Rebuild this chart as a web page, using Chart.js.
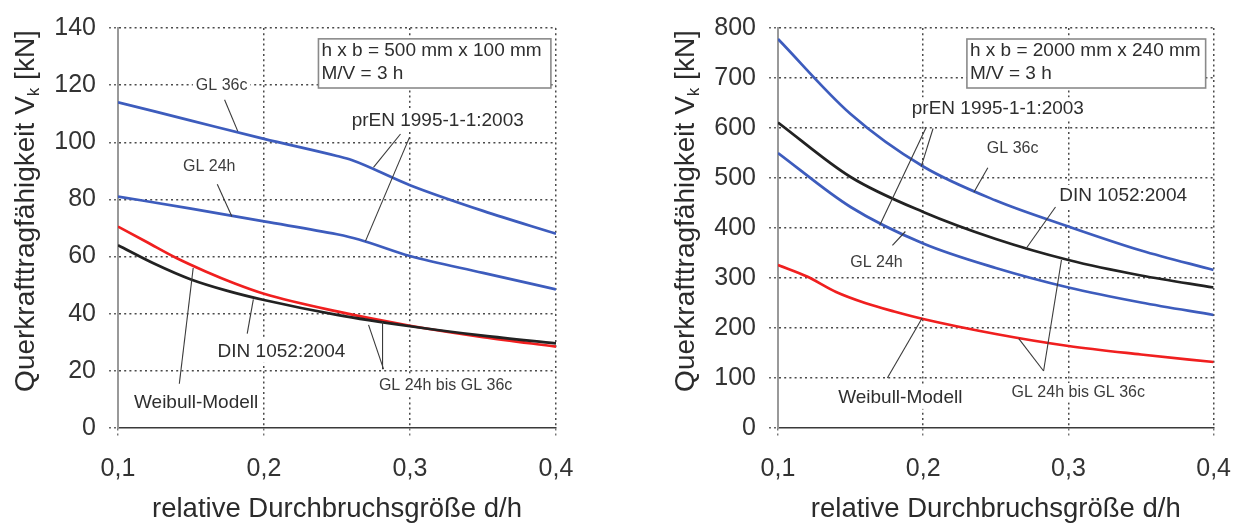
<!DOCTYPE html>
<html>
<head>
<meta charset="utf-8">
<script src="https://cdn.jsdelivr.net/npm/chart.js@4/dist/chart.umd.min.js"></script>
<style>
  html, body { margin:0; padding:0; background:#fff; }
  .wrap { position:absolute; top:0; height:524px; }
</style>
</head>
<body>
<div class="wrap" style="left:0;width:620px"><canvas id="cL"></canvas></div>
<div class="wrap" style="left:620px;width:628px"><canvas id="cR"></canvas></div>
<script>
// ---------- data ----------
const xTickValues = [0.1, 0.2, 0.3, 0.4];
const xTitle = 'relative Durchbruchsgröße d/h';
const yTitleMain = 'Querkrafttragfähigkeit V';
const yTitleSub = 'k';
const yTitleUnit = ' [kN]';

// left chart: h x b = 500 mm x 100 mm
const leftX_GL36c = [0.10, 0.15, 0.20, 0.25, 0.26, 0.30, 0.35, 0.40];
const leftY_GL36c = [114, 107.6, 101.2, 95.2, 93.8, 85, 76, 68];
const leftX_GL24h = [0.10, 0.15, 0.20, 0.25, 0.265, 0.30, 0.35, 0.40];
const leftY_GL24h = [81, 76.8, 72.3, 67.8, 66, 60.2, 54.3, 48.5];
const leftX_Weibull = [0.10, 0.12, 0.14, 0.16, 0.18, 0.20, 0.25, 0.30, 0.35, 0.40];
const leftY_Weibull = [70.5, 65, 59.5, 54.8, 50.6, 47, 40.8, 35.8, 31.8, 28.5];
const leftX_DIN = [0.10, 0.125, 0.15, 0.175, 0.20, 0.25, 0.30, 0.35, 0.40];
const leftY_DIN = [64, 57.5, 52, 48, 44.8, 39.6, 35.6, 32.3, 29.6];
const leftYTicks = [0, 20, 40, 60, 80, 100, 120, 140];
const leftBoxLines = ['h x b = 500 mm x 100 mm', 'M/V = 3 h'];

// right chart: h x b = 2000 mm x 240 mm
const rightX_blue = [0.10, 0.15, 0.20, 0.25, 0.30, 0.35, 0.40];
const rightY_GL36c = [778, 628, 523, 455, 403, 355, 316];
const rightY_GL24h = [550, 442, 369, 320, 281, 251, 226];
const rightX_DIN = [0.10, 0.15, 0.20, 0.25, 0.30, 0.35, 0.40];
const rightY_DIN = [611, 502, 432, 378, 336, 305, 281];
const rightX_Weibull = [0.10, 0.12, 0.14, 0.16, 0.18, 0.20, 0.25, 0.30, 0.35, 0.40];
const rightY_Weibull = [326, 303, 272, 250, 233, 218, 188, 164, 147, 132];
const rightYTicks = [0, 100, 200, 300, 400, 500, 600, 700, 800];
const rightBoxLines = ['h x b = 2000 mm x 240 mm', 'M/V = 3 h'];

// annotation labels (data space): [text, x, y, kind]
const leftLabels = [
  ['GL 36c', 0.171, 120, 's'],
  ['GL 24h', 0.1625, 91.5, 's'],
  ['prEN 1995-1-1:2003', 0.319, 107.7, 'b'],
  ['DIN 1052:2004', 0.212, 26.8, 'b'],
  ['Weibull-Modell', 0.1535, 9, 'b'],
  ['GL 24h bis GL 36c', 0.3244, 14.8, 's']
];
const leftLeaders = [
  [0.173, 114.9, 0.182, 103.9],
  [0.168, 85.3, 0.178, 74],
  [0.2935, 102.9, 0.275, 91.2],
  [0.2997, 101.8, 0.2695, 65.4],
  [0.1885, 33, 0.1927, 45],
  [0.142, 15.5, 0.1515, 56],
  [0.2819, 20.6, 0.2716, 36.1],
  [0.2812, 37.2, 0.2812, 20.6]
];
const leftBox = [0.2373, 136.2, 0.3965, 119];

const rightLabels = [
  ['prEN 1995-1-1:2003', 0.2514, 638.5, 'b'],
  ['GL 36c', 0.2616, 558, 's'],
  ['DIN 1052:2004', 0.3377, 463.6, 'b'],
  ['GL 24h', 0.1678, 330, 's'],
  ['Weibull-Modell', 0.1842, 61, 'b'],
  ['GL 24h bis GL 36c', 0.3068, 70.7, 's']
];
const rightLeaders = [
  [0.202, 601, 0.170, 405],
  [0.2068, 599, 0.1986, 522.6],
  [0.2445, 520.6, 0.2349, 471.5],
  [0.2911, 442, 0.2705, 357.6],
  [0.1788, 365.4, 0.1877, 393],
  [0.1753, 100, 0.1993, 220],
  [0.2829, 114, 0.2658, 178.8],
  [0.2829, 114, 0.2952, 336]
];
const rightBox = [0.2301, 778, 0.3945, 680];

// ---------- styling ----------
const FONT = '"Liberation Sans", Arial, Helvetica, sans-serif';
const BLUE = '#3d5cbd';
const RED = '#f01f1f';
const BLACK = '#222222';

function pts(xs, ys) { return xs.map((x, i) => ({ x: x, y: ys[i] })); }
function ds(label, xs, ys, color) {
  return { label, data: pts(xs, ys), borderColor: color, borderWidth: 2.7,
           pointRadius: 0, fill: false, cubicInterpolationMode: 'monotone' };
}

const annotPlugin = {
  id: 'annot',
  afterDatasetsDraw(chart, args, o) {
    const ctx = chart.ctx, xs = chart.scales.x, ys = chart.scales.y;
    const px = v => xs.getPixelForValue(v), py = v => ys.getPixelForValue(v);
    ctx.save();
    ctx.strokeStyle = '#3a3a3a'; ctx.lineWidth = 1.1;
    o.leaders.forEach(l => {
      ctx.beginPath(); ctx.moveTo(px(l[0]), py(l[1])); ctx.lineTo(px(l[2]), py(l[3])); ctx.stroke();
    });
    ctx.textAlign = 'center'; ctx.textBaseline = 'middle';
    o.labels.forEach(l => {
      const size = l[3] === 'b' ? 19 : 16;
      ctx.font = size + 'px ' + FONT;
      const w = ctx.measureText(l[0]).width;
      const cx = px(l[1]), cy = py(l[2]);
      ctx.fillStyle = '#fff';
      ctx.fillRect(cx - w / 2 - 3, cy - size * 0.6, w + 6, size * 1.2);
      ctx.fillStyle = l[3] === 'b' ? '#2e2e2e' : '#3c3c3c';
      ctx.fillText(l[0], cx, cy);
    });
    const b = o.box;
    const bx1 = px(b[0]), by1 = py(b[1]), bx2 = px(b[2]), by2 = py(b[3]);
    ctx.fillStyle = '#fff';
    ctx.fillRect(bx1, by1, bx2 - bx1, by2 - by1);
    ctx.strokeStyle = '#8a8a8a'; ctx.lineWidth = 1.6;
    ctx.strokeRect(bx1, by1, bx2 - bx1, by2 - by1);
    ctx.fillStyle = '#2e2e2e'; ctx.font = '19px ' + FONT; ctx.textAlign = 'left';
    o.boxLines.forEach((t, i) => ctx.fillText(t, bx1 + 3, by1 + 12 + i * 23));
    ctx.restore();
  },
  afterDraw(chart, args, o) {
    const ctx = chart.ctx, ca = chart.chartArea;
    ctx.save();
    ctx.fillStyle = '#2b2b2b';
    ctx.font = '27.5px ' + FONT; ctx.textAlign = 'center'; ctx.textBaseline = 'middle';
    ctx.fillText(xTitle, (ca.left + ca.right) / 2, 509);
    const big = '28px ' + FONT, small = '17px ' + FONT;
    ctx.font = big; const w1 = ctx.measureText(yTitleMain).width;
    const w3 = ctx.measureText(yTitleUnit).width;
    ctx.font = small; const w2 = ctx.measureText(yTitleSub).width;
    const W = w1 + w2 + w3;
    ctx.translate(o.yTitleX, 211);
    ctx.rotate(-Math.PI / 2);
    ctx.textAlign = 'left';
    ctx.font = big; ctx.fillText(yTitleMain, -W / 2, 0);
    ctx.font = small; ctx.fillText(yTitleSub, -W / 2 + w1, 8);
    ctx.font = big; ctx.fillText(yTitleUnit, -W / 2 + w1 + w2, 0);
    ctx.restore();
  }
};

function makeChart(id, datasets, yTicks, axisW, padRight, labels, leaders, box, boxLines, yTitleX) {
  const yMin = yTicks[0], yMax = yTicks[yTicks.length - 1];
  const yStep = yTicks[1] - yTicks[0];
  return new Chart(document.getElementById(id), {
    type: 'line',
    data: { datasets },
    plugins: [annotPlugin],
    options: {
      responsive: true, maintainAspectRatio: false, animation: false,
      layout: { padding: { left: 0, right: padRight, top: 21, bottom: 0 } },
      plugins: { legend: { display: false }, tooltip: { enabled: false },
        annot: { labels, leaders, box, boxLines, yTitleX } },
      scales: {
        x: {
          type: 'linear', min: xTickValues[0], max: xTickValues[xTickValues.length - 1],
          afterBuildTicks: s => { s.ticks = xTickValues.map(v => ({ value: v })); },
          afterFit: s => { s.height = 96; },
          ticks: { font: { family: FONT, size: 25 }, color: '#333', padding: 17,
                   callback: v => v.toFixed(1).replace('.', ','), maxRotation: 0 },
          grid: { color: c => (c.tick && c.tick.value === xTickValues[0]) ? 'rgba(0,0,0,0)' : '#4a4a4a',
                  lineWidth: 1.5, tickLength: 9, tickColor: '#666', tickWidth: 1.3, tickBorderDash: [2, 3] },
          border: { display: true, color: '#3a3a3a', width: 1.6, dash: [2, 3.2] }
        },
        y: {
          min: yMin, max: yMax,
          afterBuildTicks: s => { s.ticks = yTicks.map(v => ({ value: v })); },
          afterFit: s => { s.width = axisW; },
          ticks: { font: { family: FONT, size: 25 }, color: '#333', padding: 13, stepSize: yStep },
          grid: { color: c => (c.tick && c.tick.value === yMin) ? 'rgba(0,0,0,0)' : '#4a4a4a',
                  lineWidth: 1.5, tickLength: 9, tickColor: '#666', tickWidth: 1.3, tickBorderDash: [2, 3] },
          border: { display: true, color: '#999', width: 2, dash: [2, 3.2] }
        }
      }
    }
  });
}

makeChart('cL', [
  ds('GL 36c', leftX_GL36c, leftY_GL36c, BLUE),
  ds('GL 24h', leftX_GL24h, leftY_GL24h, BLUE),
  ds('DIN 1052:2004', leftX_DIN, leftY_DIN, BLACK),
  ds('Weibull-Modell', leftX_Weibull, leftY_Weibull, RED)
], leftYTicks, 118, 64, leftLabels, leftLeaders, leftBox, leftBoxLines, 26);

makeChart('cR', [
  ds('GL 36c', rightX_blue, rightY_GL36c, BLUE),
  ds('GL 24h', rightX_blue, rightY_GL24h, BLUE),
  ds('DIN 1052:2004', rightX_DIN, rightY_DIN, BLACK),
  ds('Weibull-Modell', rightX_Weibull, rightY_Weibull, RED)
], rightYTicks, 158, 32, rightLabels, rightLeaders, rightBox, rightBoxLines, 66);
</script>
</body>
</html>
